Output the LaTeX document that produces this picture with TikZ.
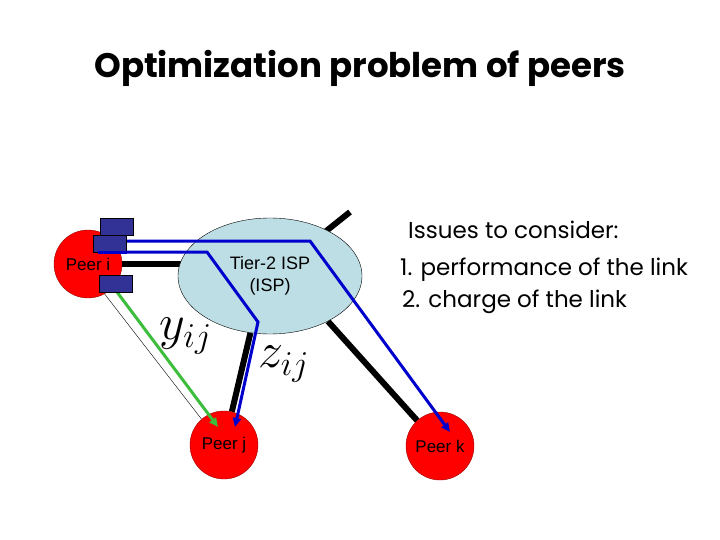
\documentclass[tikz,border=0pt]{standalone}
\usepackage{fontspec}
\setmainfont{Poppins}
\newfontfamily\arialfont{Liberation Sans}
\usepackage{xcolor}
\definecolor{ispfill}{RGB}{188,222,228}
\definecolor{portblue}{RGB}{50,50,150}
\definecolor{routeblue}{RGB}{0,0,205}
\definecolor{greenroute}{RGB}{60,190,60}
\usepackage{tikz}
\usetikzlibrary{shapes.geometric,arrows.meta,positioning,calc,backgrounds}
\tikzset{
  peer/.style={circle,draw=red!60!black,fill=red,minimum size=68pt,inner sep=0pt,
    font=\arialfont\fontsize{17}{20}\selectfont},
  isp/.style={ellipse,draw=black,thin,fill=ispfill,minimum width=184pt,minimum height=116pt,
    align=center,inner sep=0pt,font=\arialfont\fontsize{18}{22}\selectfont},
  port/.style={rectangle,draw=black,fill=portblue,minimum width=33pt,minimum height=17pt,inner sep=0pt},
  link/.style={line width=6pt,draw=black},
  route/.style={line width=3pt,draw=routeblue,-{Triangle[length=9pt,width=8pt]}},
  issue/.style={anchor=west,font=\fontsize{23}{26}\selectfont,inner sep=0pt},
  varlbl/.style={font=\fontsize{17}{20}\selectfont,inner sep=0pt,scale=2.9,transform shape},
}

\begin{document}
\begin{tikzpicture}[x=1pt,y=-1pt]
  \useasboundingbox (0,0) rectangle (720,540);
  \node (title) at (360,68) {\fontsize{34}{40}\selectfont\bfseries Optimization problem of peers};

  % network
  \node (isp) [isp] at (270,276) {Tier-2 ISP\\(ISP)};
  \node (pi) [peer] at (88,264) {Peer i};
  \node (pj) [peer] at (224,445) {Peer j};
  \node (pk) [peer] at (440,446) {Peer k};
  \coordinate (up) at (350,212);
  \begin{pgfonlayer}{background}
    \draw[link] (pi) -- (pi -| isp.center);
    \draw[link] (up) -- (isp.center);
    \draw[link] (isp.-38) -- (pk);
    \draw[link] (isp.-109) -- (pj);
  \end{pgfonlayer}

  % routes
  \draw[thin] (pi.-61) -- (pj.131);
  \draw[line width=3pt,draw=greenroute,-{Triangle[length=9pt,width=8pt]}]
    (117,292) -- ([shift={(-6,-18)}]pj.center);
  \coordinate (b1) at (310,241);
  \coordinate (b2) at (207,252);
  \coordinate (b3) at (258,322);
  \draw[route] (127,241) -- (b1) -- ([shift={(10,-14)}]pk.center);
  \draw[route] (98,252) -- (b2) -- (b3) -- ([shift={(11,-18)}]pj.center);

  % ports
  \node (p1) [port] at (116.5,227) {};
  \node (p2) [port] at (110,244) {};
  \node (p3) [port] at (116,283.5) {};
  \draw[line width=3pt,draw=routeblue] (98,252) -- (127,252);

  % labels
  \node (y) [varlbl] at (186,336) {$y_{ij}$};
  \node (z) [varlbl] at (284,364) {$z_{ij}$};
  \node (iss) [issue] at (408,230) {Issues to consider:};
  \node (i1) [issue] at (400,270) {1. performance of the link};
  \node (i2) [issue] at (402,302) {2. charge of the link};
\end{tikzpicture}
\end{document}
